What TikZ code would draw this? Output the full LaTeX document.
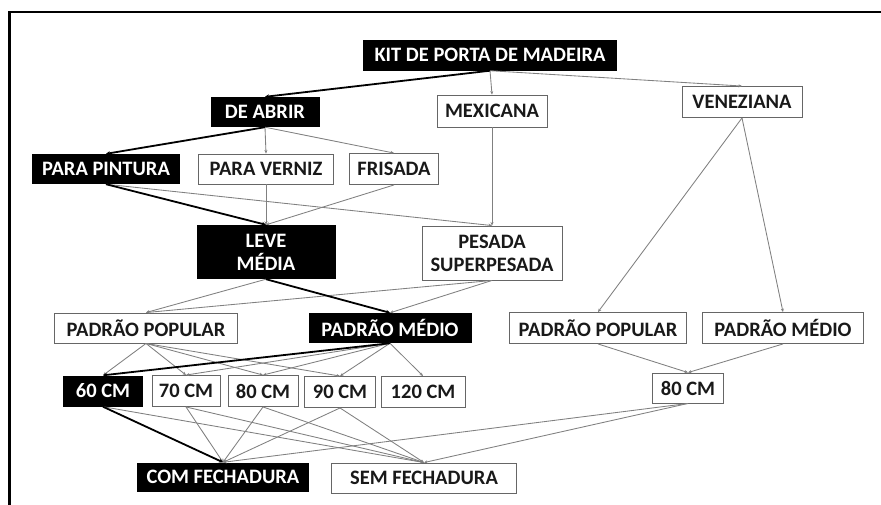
\documentclass[tikz,border=0pt]{standalone}
\usepackage{fontspec}
\setmainfont{Carlito}
\usetikzlibrary{arrows.meta}
\begin{document}
\begin{tikzpicture}[x=1pt,y=-1pt,
  every node/.style={font=\fontsize{20.5}{23}\selectfont\bfseries, inner sep=0pt, align=center},
  bbox/.style={fill=black, text=white},
  wbox/.style={draw=black!60, line width=0.9pt, fill=white, text=black!90},
  gedge/.style={draw=black!50, line width=0.85pt, -{Stealth[length=3.5pt,width=3pt]}},
  kedge/.style={draw=black, line width=1.8pt, -{Stealth[length=4pt,width=4pt]}}]
\useasboundingbox (0,0) rectangle (881,504);
\fill[white] (-3,-3) rectangle (885,508);
% frame
\draw[line width=2.6pt] (8,12) -- (885,12);
\draw[line width=2.6pt] (9.5,11) -- (9.5,508);
% nodes
\node[bbox, minimum width=254pt, minimum height=31pt] (kit) at (490,55) {KIT DE PORTA DE MADEIRA};
\node[bbox, minimum width=109pt, minimum height=30pt] (abrir) at (265,112) {DE ABRIR};
\node[wbox, minimum width=110pt, minimum height=32pt] (mex) at (492,111) {MEXICANA};
\node[wbox, minimum width=120pt, minimum height=31pt] (ven) at (742,102) {VENEZIANA};
\node[bbox, minimum width=148pt, minimum height=30pt] (pint) at (106,169) {PARA PINTURA};
\node[wbox, minimum width=135pt, minimum height=30pt] (vern) at (266,169) {PARA VERNIZ};
\node[wbox, minimum width=89pt, minimum height=31pt] (fris) at (394,169) {FRISADA};
\node[bbox, minimum width=139pt, minimum height=54pt] (leve) at (266,252) {LEVE\\MÉDIA};
\node[wbox, minimum width=140pt, minimum height=54pt] (pes) at (492,253) {PESADA\\SUPERPESADA};
\node[wbox, minimum width=183pt, minimum height=30pt] (ppl) at (146,328) {PADRÃO POPULAR};
\node[bbox, minimum width=163pt, minimum height=30pt] (pml) at (390,328) {PADRÃO MÉDIO};
\node[wbox, minimum width=177pt, minimum height=31pt] (ppr) at (598,328) {PADRÃO POPULAR};
\node[wbox, minimum width=161pt, minimum height=31pt] (pmr) at (783,328) {PADRÃO MÉDIO};
\node[bbox, minimum width=80pt, minimum height=31pt] (c60) at (103,391) {60 CM};
\node[wbox, minimum width=68pt, minimum height=31pt] (c70) at (186,391) {70 CM};
\node[wbox, minimum width=70pt, minimum height=31pt] (c80) at (263,391) {80 CM};
\node[wbox, minimum width=71pt, minimum height=31pt] (c90) at (340,392) {90 CM};
\node[wbox, minimum width=84pt, minimum height=31pt] (c120) at (423,392) {120 CM};
\node[wbox, minimum width=71pt, minimum height=30pt] (c80r) at (688,388) {80 CM};
\node[bbox, minimum width=172pt, minimum height=29pt] (com) at (223,477) {COM FECHADURA};
\node[wbox, minimum width=185pt, minimum height=30pt] (sem) at (424,478) {SEM FECHADURA};
% gray edges
\draw[gedge] (kit.south) -- (mex.north);
\draw[gedge] (kit.south) -- (ven.north);
\draw[gedge] (abrir.south) -- (vern.north);
\draw[gedge] (abrir.south) -- (fris.north);
\draw[gedge] (pint.south) -- (pes.north);
\draw[gedge] (vern.south) -- (leve.north);
\draw[gedge] (fris.south) -- (leve.north);
\draw[gedge] (mex.south) -- (pes.north);
\draw[gedge] (leve.south) -- (ppl.north);
\draw[gedge] (pes.south) -- (ppl.north);
\draw[gedge] (pes.south) -- (pml.north);
\draw[gedge] (ven.south) -- (ppr.north);
\draw[gedge] (ven.south) -- (pmr.north);
\draw[gedge] (ppr.south) -- (c80r.north);
\draw[gedge] (pmr.south) -- (c80r.north);
\draw[gedge] (ppl.south) -- (c60.north);
\draw[gedge] (ppl.south) -- (c70.north);
\draw[gedge] (ppl.south) -- (c80.north);
\draw[gedge] (ppl.south) -- (c90.north);
\draw[gedge] (pml.south) -- (c70.north);
\draw[gedge] (pml.south) -- (c80.north);
\draw[gedge] (pml.south) -- (c90.north);
\draw[gedge] (pml.south) -- (c120.north);
\draw[gedge] (c60.south) -- (sem.north);
\draw[gedge] (c70.south) -- (com.north);
\draw[gedge] (c70.south) -- (sem.north);
\draw[gedge] (c80.south) -- (com.north);
\draw[gedge] (c80.south) -- (sem.north);
\draw[gedge] (c90.south) -- (com.north);
\draw[gedge] (c90.south) -- (sem.north);
\draw[gedge] (c80r.south) -- (com.north);
\draw[gedge] (c80r.south) -- (sem.north);
% highlighted path
\draw[kedge] (kit.south) -- (abrir.north);
\draw[kedge] (abrir.south) -- (pint.north);
\draw[kedge] (pint.south) -- (leve.north);
\draw[kedge] (leve.south) -- (pml.north);
\draw[kedge] (pml.south) -- (c60.north);
\draw[kedge] (c60.south) -- (com.north);
\end{tikzpicture}
\end{document}
